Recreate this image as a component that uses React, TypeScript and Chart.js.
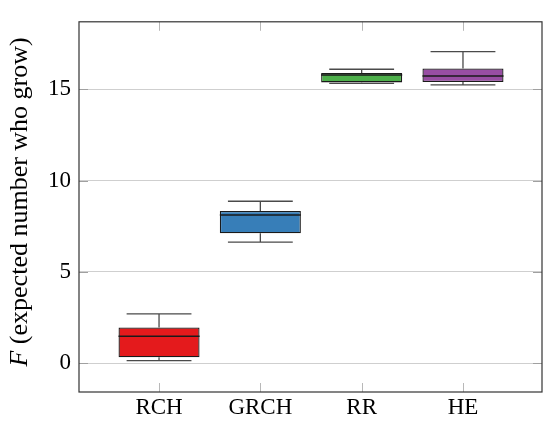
import React, { useEffect, useRef } from "react";
import { Chart, registerables } from "chart.js";

Chart.register(...registerables);

const categories = ["RCH", "GRCH", "RR", "HE"];
const positions = [1, 2, 3, 4];
const lowerWhisker = [0.14, 6.63, 15.33, 15.25];
const q1 = [0.32, 7.11, 15.38, 15.4];
const median = [1.48, 8.11, 15.78, 15.73];
const q3 = [1.95, 8.34, 15.89, 16.14];
const upperWhisker = [2.7, 8.87, 16.1, 17.07];
const yTicks = [0, 5, 10, 15];
const colors = ["#e41a1c", "#377eb8", "#4daf4a", "#984ea3"];

const FONT = "'Liberation Serif', 'DejaVu Serif', serif";

const boxPlugin = {
  id: "boxExtras",
  beforeDatasetsDraw(chart: any) {
    const { ctx, chartArea, scales } = chart;
    const xs = scales.x;
    const ys = scales.y;
    ctx.save();
    ctx.strokeStyle = "#b8b8b8";
    ctx.lineWidth = 1;
    const tl = 9;
    positions.forEach((p) => {
      const x = Math.round(xs.getPixelForValue(p)) + 0.5;
      ctx.beginPath();
      ctx.moveTo(x, chartArea.top);
      ctx.lineTo(x, chartArea.top + tl);
      ctx.moveTo(x, chartArea.bottom);
      ctx.lineTo(x, chartArea.bottom - tl);
      ctx.stroke();
    });
    ctx.strokeStyle = "#a0a0a0";
    yTicks.forEach((v) => {
      const y = Math.round(ys.getPixelForValue(v)) + 0.5;
      ctx.beginPath();
      ctx.moveTo(chartArea.left, y);
      ctx.lineTo(chartArea.left + tl, y);
      ctx.moveTo(chartArea.right, y);
      ctx.lineTo(chartArea.right - tl, y);
      ctx.stroke();
    });
    ctx.restore();
  },
  afterDatasetsDraw(chart: any) {
    const { ctx, chartArea, scales } = chart;
    const xs = scales.x;
    const ys = scales.y;
    const meta = chart.getDatasetMeta(0);
    ctx.save();
    positions.forEach((p, i) => {
      const x = xs.getPixelForValue(p);
      const bw = meta.data[i].width;
      const cap = bw * 0.4;
      const yU = ys.getPixelForValue(upperWhisker[i]);
      const yL = ys.getPixelForValue(lowerWhisker[i]);
      const y3 = ys.getPixelForValue(q3[i]);
      const y1 = ys.getPixelForValue(q1[i]);
      const yM = ys.getPixelForValue(median[i]);
      ctx.strokeStyle = "#4a4a4a";
      ctx.lineWidth = 1.3;
      ctx.beginPath();
      ctx.moveTo(x, y3);
      ctx.lineTo(x, yU);
      ctx.moveTo(x - cap, yU);
      ctx.lineTo(x + cap, yU);
      ctx.moveTo(x, y1);
      ctx.lineTo(x, yL);
      ctx.moveTo(x - cap, yL);
      ctx.lineTo(x + cap, yL);
      ctx.stroke();
      ctx.strokeStyle = "#1a1a1a";
      ctx.lineWidth = 1.5;
      ctx.beginPath();
      ctx.moveTo(x - bw / 2, yM);
      ctx.lineTo(x + bw / 2, yM);
      ctx.stroke();
    });
    // frame
    ctx.strokeStyle = "#333333";
    ctx.lineWidth = 1.2;
    ctx.strokeRect(
      chartArea.left,
      chartArea.top,
      chartArea.right - chartArea.left,
      chartArea.bottom - chartArea.top
    );
    // y title with italic F
    const cx = 20;
    const cy = (chartArea.top + chartArea.bottom) / 2 - 5;
    ctx.translate(cx, cy);
    ctx.rotate(-Math.PI / 2);
    ctx.fillStyle = "#000";
    ctx.textBaseline = "middle";
    ctx.textAlign = "left";
    const fItalic = "italic 26px " + FONT;
    const fNormal = "26px " + FONT;
    ctx.font = fItalic;
    const wF = ctx.measureText("F").width;
    ctx.font = fNormal;
    const rest = " (expected number who grow)";
    const wR = ctx.measureText(rest).width;
    const start = -(wF + wR) / 2;
    ctx.font = fItalic;
    ctx.fillText("F", start, 0);
    ctx.font = fNormal;
    ctx.fillText(rest, start + wF, 0);
    ctx.restore();
  },
};

export default function App() {
  const ref = useRef<HTMLCanvasElement | null>(null);
  useEffect(() => {
    if (!ref.current) return;
    const chart = new Chart(ref.current, {
      type: "bar",
      data: {
        datasets: [
          {
            data: positions.map((p, i) => ({ x: p, y: [q1[i], q3[i]] })) as any,
            backgroundColor: colors,
            borderColor: "#1a1a1a",
            borderWidth: 1.3,
            borderSkipped: false,
            categoryPercentage: 0.8,
            barPercentage: 1,
          },
        ],
      },
      options: {
        animation: false,
        responsive: true,
        maintainAspectRatio: false,
        layout: { padding: { left: 0, right: 8, top: 8, bottom: 0 } },
        plugins: {
          legend: { display: false },
          tooltip: { enabled: false },
        },
        scales: {
          x: {
            type: "linear",
            offset: false,
            min: 0.21,
            max: 4.78,
            afterBuildTicks: (s: any) => {
              s.ticks = positions.map((v) => ({ value: v }));
            },
            afterFit: (s: any) => {
              s.height = 30;
            },
            grid: { display: false, drawTicks: false },
            border: { display: false },
            ticks: {
              padding: 2,
              color: "#000",
              font: { family: FONT, size: 23 },
              callback: (v: any) => categories[positions.indexOf(Number(v))] ?? "",
            },
          },
          y: {
            type: "linear",
            min: -1.58,
            max: 18.7,
            afterBuildTicks: (s: any) => {
              s.ticks = yTicks.map((v) => ({ value: v }));
            },
            afterFit: (s: any) => {
              s.width = 79;
            },
            grid: { color: "#cfcfcf", lineWidth: 1, drawTicks: false },
            border: { display: false },
            ticks: {
              padding: 8,
              color: "#000",
              font: { family: FONT, size: 23 },
            },
          },
        },
      },
      plugins: [boxPlugin],
    });
    return () => chart.destroy();
  }, []);
  return (
    <div style={{ position: "absolute", left: 0, top: 0, width: 550, height: 422, background: "#fff" }}>
      <canvas ref={ref} />
    </div>
  );
}
